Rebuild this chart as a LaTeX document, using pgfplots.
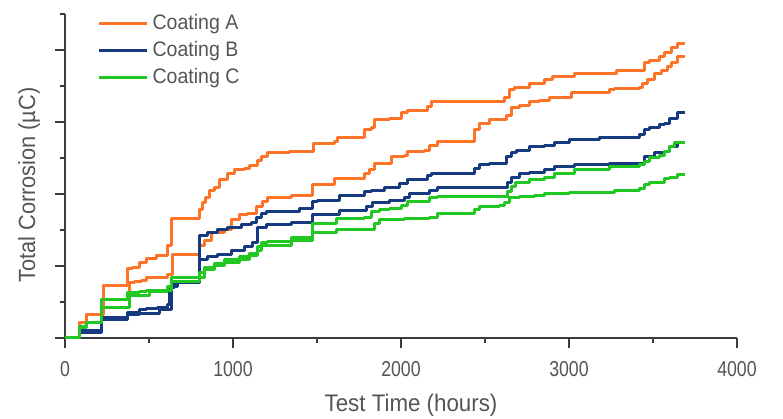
\documentclass[border=0pt]{standalone}
\usepackage{pgfplots}
\pgfplotsset{compat=1.18}
\usepackage{fontspec}
\setmainfont{Liberation Sans}
\newfontfamily\tickfont{Liberation Sans}[FakeStretch=0.82]
\newfontfamily\labfont{Liberation Sans}[FakeStretch=0.93]
\definecolor{cA}{RGB}{255,115,40}
\definecolor{cB}{RGB}{22,58,128}
\definecolor{cC}{RGB}{34,200,34}
\definecolor{axisgray}{RGB}{60,60,60}
\definecolor{textgray}{RGB}{85,85,85}
\begin{document}
\begin{tikzpicture}
\begin{axis}[
  scale only axis, width=336pt, height=162pt,
  xmin=0, xmax=4000, ymin=0, ymax=9,
  axis lines=left, axis line style={-, axisgray, line width=1pt},
  tick align=outside,
  xtick={0,1000,2000,3000,4000}, minor xtick={500,1500,2500,3500},
  ytick={0,2,4,6,8}, minor ytick={1,3,5,7,9}, yticklabels={},
  major tick length=5pt, minor tick length=2.5pt,
  tick style={axisgray, line width=0.9pt},
  /pgf/number format/assume math mode=true,
  /pgf/number format/set thousands separator={},
  xticklabel style={font=\tickfont\fontsize{10.8}{12}\selectfont, text=textgray, yshift=-3pt},
  xlabel={Test Time (hours)},
  ylabel={Total Corrosion (µC)},
  xlabel style={at={(axis description cs:0.515,-0.207)}, anchor=center, font=\labfont\fontsize{12}{14}\selectfont, text=textgray},
  ylabel style={at={(axis description cs:-0.0535,0.472)}, anchor=center, font=\labfont\fontsize{11.7}{14}\selectfont, text=textgray},
  legend style={at={(axis description cs:0.039,1.024)}, anchor=north west, draw=none, fill=none,
    font=\labfont\fontsize{10.5}{12}\selectfont, text=textgray, row sep=0.3pt},
  legend cell align=left,
  legend image code/.code={\draw[#1, line width=1.5pt] (0pt,0pt) -- (24pt,0pt);},
  every axis plot/.append style={line width=1.5pt, line join=round},
  clip=false,
]
% Coating A (orange)
\addplot[cA, const plot] coordinates {
(0,0) (89,0.42) (131,0.64) (232,1.47) (375,1.94) (404,1.97) (446,2.11) (487,2.22)
(547,2.28) (612,2.58) (636,3.33) (800,3.56) (820,3.75) (838,3.89) (862,4.11) (892,4.19)
(921,4.39) (969,4.58) (1011,4.67) (1070,4.72) (1100,4.78) (1147,4.94) (1171,5.03)
(1207,5.14) (1338,5.17) (1480,5.39) (1605,5.47) (1623,5.58) (1784,5.78) (1825,5.86)
(1843,6.06) (1932,6.11) (2003,6.25) (2039,6.33) (2158,6.42) (2182,6.56) (2616,6.69)
(2646,6.89) (2675,6.97) (2764,7.08) (2854,7.17) (2901,7.25) (3032,7.36) (3282,7.44)
(3448,7.64) (3478,7.72) (3537,7.81) (3567,7.92) (3609,8.08) (3644,8.19) (3692,8.19)};
\addlegendentry{Coating A}
\addplot[cA, const plot, forget plot] coordinates {
(0,0) (89,0.42) (131,0.64) (220,1.06) (386,1.53) (416,1.56) (458,1.61) (487,1.67)
(547,1.69) (612,1.75) (642,2.31) (800,2.58) (832,2.72) (874,2.92) (951,3.00) (993,3.28)
(1040,3.42) (1088,3.47) (1141,3.64) (1177,3.78) (1207,3.89) (1350,3.97) (1474,4.25)
(1605,4.44) (1784,4.58) (1813,4.67) (1843,4.86) (1944,5.03) (2021,5.08) (2039,5.17)
(2140,5.22) (2170,5.36) (2217,5.47) (2437,5.78) (2467,5.97) (2527,6.06) (2628,6.19)
(2657,6.39) (2705,6.47) (2764,6.56) (2824,6.61) (2883,6.69) (3014,6.83) (3240,6.89)
(3270,6.94) (3418,6.97) (3436,7.08) (3466,7.17) (3508,7.36) (3549,7.44) (3585,7.53)
(3609,7.64) (3644,7.83) (3692,7.83)};
% Coating B (blue)
\addplot[cB, const plot] coordinates {
(0,0) (89,0.22) (220,0.58) (375,0.72) (446,0.78) (487,0.83) (553,0.86) (612,0.92)
(624,1.39) (654,1.53) (800,2.86) (850,2.94) (910,3.00) (969,3.06) (1052,3.14) (1112,3.22)
(1141,3.36) (1171,3.47) (1201,3.50) (1397,3.61) (1474,3.78) (1504,3.83) (1635,3.97)
(1784,4.06) (1825,4.11) (1902,4.17) (1992,4.28) (2039,4.39) (2158,4.50) (2182,4.56)
(2437,4.72) (2467,4.81) (2527,4.86) (2628,5.03) (2657,5.14) (2687,5.22) (2764,5.31)
(2854,5.36) (2913,5.42) (3002,5.50) (3181,5.56) (3252,5.58) (3418,5.64) (3448,5.78)
(3478,5.86) (3537,5.92) (3567,5.97) (3597,6.11) (3644,6.25) (3692,6.25)};
\addlegendentry{Coating B}
\addplot[cB, const plot, forget plot] coordinates {
(0,0) (89,0.14) (220,0.50) (375,0.64) (446,0.69) (565,0.78) (636,1.42) (672,1.53)
(800,2.17) (850,2.25) (910,2.31) (993,2.44) (1070,2.53) (1118,2.64) (1147,3.06)
(1201,3.14) (1350,3.22) (1474,3.42) (1635,3.53) (1795,3.64) (1831,3.75) (1932,3.81)
(2021,3.89) (2051,4.00) (2170,4.11) (2217,4.19) (2634,4.33) (2657,4.47) (2705,4.58)
(2764,4.61) (2854,4.67) (2913,4.75) (3032,4.83) (3240,4.86) (3448,5.03) (3508,5.14)
(3567,5.17) (3597,5.31) (3644,5.42) (3692,5.42)};
% Coating C (green)
\addplot[cC, const plot] coordinates {
(0,0) (89,0.31) (131,0.44) (220,1.06) (375,1.25) (446,1.28) (487,1.33) (612,1.42)
(636,1.67) (800,1.83) (832,1.97) (892,2.08) (951,2.17) (1040,2.25) (1100,2.36)
(1147,2.53) (1171,2.64) (1207,2.69) (1350,2.78) (1474,3.19) (1617,3.33) (1784,3.36)
(1825,3.50) (1873,3.56) (1932,3.61) (2003,3.69) (2039,3.78) (2170,3.89) (2217,3.94)
(2634,4.06) (2657,4.22) (2681,4.31) (2764,4.39) (2854,4.47) (2913,4.58) (3032,4.67)
(3240,4.75) (3418,4.81) (3448,4.89) (3478,5.00) (3537,5.08) (3567,5.17) (3597,5.31)
(3626,5.42) (3692,5.42)};
\addlegendentry{Coating C}
\addplot[cC, const plot, forget plot] coordinates {
(0,0) (89,0.28) (131,0.44) (220,0.86) (386,1.17) (505,1.28) (612,1.33) (636,1.58)
(800,1.69) (832,1.89) (892,2.00) (951,2.11) (1040,2.19) (1100,2.28) (1147,2.44)
(1171,2.56) (1207,2.58) (1350,2.72) (1474,2.92) (1617,3.00) (1843,3.19) (1873,3.28)
(2021,3.33) (2170,3.36) (2217,3.47) (2437,3.56) (2467,3.64) (2586,3.69) (2616,3.75)
(2646,3.89) (2705,3.92) (2794,3.97) (2854,4.00) (3002,4.03) (3270,4.11) (3418,4.14)
(3448,4.25) (3478,4.31) (3537,4.33) (3567,4.42) (3597,4.47) (3644,4.53) (3692,4.53)};
\coordinate (bl) at (rel axis cs:-0.0967,-0.25);
\coordinate (tr) at (rel axis cs:1.0685,1.0432);
\end{axis}
\pgfresetboundingbox
\path[use as bounding box] (bl) rectangle (tr);
\end{tikzpicture}
\end{document}
